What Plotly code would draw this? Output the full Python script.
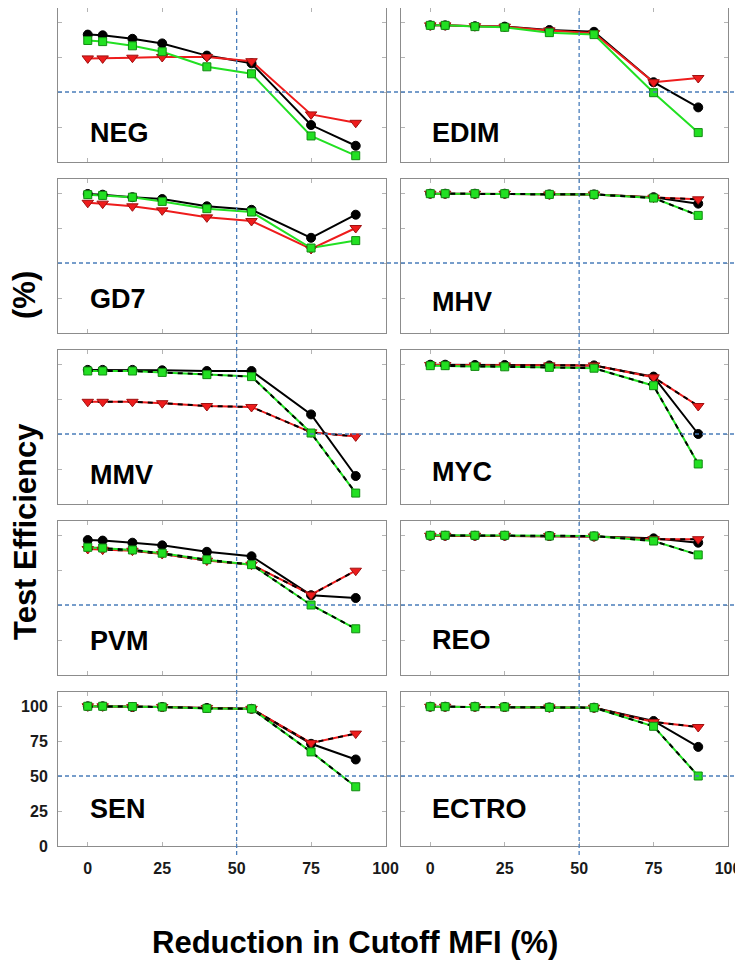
import plotly.graph_objects as go
from plotly.subplots import make_subplots

# cutoff MFI reduction steps (%)
CUTOFF_REDUCTION = [0, 5, 15, 25, 40, 55, 75, 90]

# test efficiency (%) per agent, three series each
neg_black = [91, 90.5, 88, 84.7, 76, 70.5, 26.4, 11.6]
neg_red = [74, 74, 74.5, 75, 75, 72, 34, 28]
neg_green = [86.8, 86, 83, 78.8, 68, 63, 18.6, 4.5]

edim_black = [97.6, 97.6, 97, 96.7, 94.3, 93, 57, 39]
edim_red = [97.6, 97.6, 97, 96.7, 94, 92, 57, 60]
edim_green = [97.6, 97.6, 96.7, 96.2, 92.4, 91, 49.5, 21]

gd7_black = [99.3, 98.8, 97, 95.7, 90.5, 88, 68, 84.5]
gd7_red = [93, 92.4, 90.5, 87.6, 82.6, 80, 60, 75]
gd7_green = [98.8, 98.3, 97, 94, 88.8, 86.4, 60.7, 66]

mhv_black = [99.5, 99.5, 99.5, 99.5, 99, 99, 97, 92.4]
mhv_red = [99.5, 99.5, 99.5, 99.5, 99, 99, 96.7, 95.5]
mhv_green = [99.5, 99.5, 99.5, 99.5, 99, 99, 96.4, 84]

mmv_black = [95.8, 95.8, 95.8, 95.5, 95, 95, 64, 20]
mmv_red = [73, 73, 73, 72, 70, 69.3, 51.2, 48.3]
mmv_green = [95, 95, 95, 94, 92.4, 91, 50.7, 7.8]

myc_black = [99.5, 99.5, 99.3, 99.3, 99, 99, 91, 50]
myc_red = [99.3, 99.3, 99, 99, 99, 99, 90.5, 70]
myc_green = [98.8, 98.8, 98.3, 98, 97.6, 97, 84.5, 28.6]

pvm_black = [96.4, 96, 94.5, 92.6, 88, 84.8, 57, 55]
pvm_red = [90, 89.5, 88.8, 86.4, 81.7, 78.8, 57.4, 74.5]
pvm_green = [91.2, 90.7, 89.3, 87, 82.4, 78.8, 50, 33]

reo_black = [99.5, 99.5, 99.5, 99.5, 99.3, 99, 97.6, 94.5]
reo_red = [99.5, 99.5, 99.5, 99.5, 99.3, 99, 97, 97]
reo_green = [99.8, 99.8, 99.8, 99.8, 99.3, 99.3, 95.7, 85.8]

sen_black = [99.8, 99.8, 99.3, 99.3, 98.6, 98, 73, 61.8]
sen_red = [99.8, 99.8, 99.3, 99.3, 98.6, 98, 73.6, 80.3]
sen_green = [99.8, 99.8, 99.6, 99.3, 98.3, 98, 67.2, 42.3]

ectro_black = [99.5, 99.5, 99.5, 99.3, 99, 98.8, 89.3, 70.8]
ectro_red = [99.5, 99.5, 99.5, 99.3, 99, 98.8, 88.6, 85]
ectro_green = [99.5, 99.5, 99.5, 99.3, 99, 98.8, 85.5, 50]

PANELS = [
    ("NEG", neg_black, neg_red, neg_green),
    ("EDIM", edim_black, edim_red, edim_green),
    ("GD7", gd7_black, gd7_red, gd7_green),
    ("MHV", mhv_black, mhv_red, mhv_green),
    ("MMV", mmv_black, mmv_red, mmv_green),
    ("MYC", myc_black, myc_red, myc_green),
    ("PVM", pvm_black, pvm_red, pvm_green),
    ("REO", reo_black, reo_red, reo_green),
    ("SEN", sen_black, sen_red, sen_green),
    ("ECTRO", ectro_black, ectro_red, ectro_green),
]

# panels whose coloured lines carry a black dash overlay
DASHED_PANELS = {"MHV", "MMV", "MYC", "PVM", "REO", "SEN", "ECTRO"}
LABEL_Y = [21, 21, 24, 22, 21, 23, 24.5, 25, 26.5, 26.5]

FONT = "Liberation Sans, Arial, sans-serif"
AXIS_GREY = "#8c8c8c"
REF_BLUE = "#4a7ebb"

# page body adds an 8px offset, so the figure is drawn a bit smaller than the window
W, H = 735, 952
M_L, M_R, M_T, M_B = 50, 15, 0, 114
plot_w = W - M_L - M_R
plot_h = H - M_T - M_B


def px_x(x):
    return (x - M_L) / plot_w


def px_y(y):
    return (plot_h + M_T - y) / plot_h


fig = make_subplots(rows=5, cols=2, horizontal_spacing=15 / plot_w, vertical_spacing=17 / plot_h)

series_style = [
    ("black", dict(symbol="circle", size=9, color="black", line=dict(color="black", width=1))),
    ("#ee1c1c", dict(symbol="triangle-down", size=10, color="#ee1c1c", line=dict(color="#a01010", width=1))),
    ("#22e022", dict(symbol="square", size=8, color="#22e022", line=dict(color="#128a12", width=1))),
]

for i, (label, *series) in enumerate(PANELS):
    row, col = i // 2 + 1, i % 2 + 1
    # lines first
    for (color, _), ys in zip(series_style, series):
        fig.add_trace(
            go.Scatter(x=CUTOFF_REDUCTION, y=ys, mode="lines", line=dict(color=color, width=2),
                       showlegend=False, hoverinfo="skip"),
            row=row, col=col,
        )
        if label in DASHED_PANELS and color != "black":
            fig.add_trace(
                go.Scatter(x=CUTOFF_REDUCTION, y=ys, mode="lines",
                           line=dict(color="black", width=2, dash="5px,5px"),
                           showlegend=False, hoverinfo="skip"),
                row=row, col=col,
            )
    # markers on top
    for (color, marker), ys in zip(series_style, series):
        fig.add_trace(
            go.Scatter(x=CUTOFF_REDUCTION, y=ys, mode="markers", marker=marker, showlegend=False),
            row=row, col=col,
        )

    n = i + 1
    fig.add_annotation(
        x=0, y=LABEL_Y[i], xref=f"x{n}", yref=f"y{n}", text=label, showarrow=False,
        xanchor="left", yanchor="middle",
        font=dict(family=FONT, size=27, color="black", weight="bold"),
    )

    if col == 1:
        # y = 50 reference line across the whole row
        fig.add_shape(
            type="line", xref="paper", yref=f"y{n}", x0=0, x1=px_x(W), y0=50, y1=50,
            line=dict(color=REF_BLUE, width=1.3, dash="4px,3px"),
        )

# x = 50 reference lines through each column
for n in (9, 10):
    fig.add_shape(
        type="line", xref=f"x{n}", yref="paper", x0=50, x1=50,
        y0=px_y(847), y1=1.01,
        line=dict(color=REF_BLUE, width=1.3, dash="4px,3px"),
    )

tick_font = dict(family=FONT, size=16, color="#1a1a1a", weight="bold")
fig.update_xaxes(
    range=[-10, 100], tickvals=[0, 25, 50, 75, 100], showgrid=False, zeroline=False,
    showline=True, linecolor=AXIS_GREY, linewidth=1, mirror="ticks",
    ticks="inside", ticklen=4, tickcolor="#b4b4b4", showticklabels=False,
    tickfont=tick_font, automargin=False,
)
fig.update_yaxes(
    range=[0, 110], tickvals=[0, 25, 50, 75, 100], showgrid=False, zeroline=False,
    showline=True, linecolor=AXIS_GREY, linewidth=1, mirror="ticks",
    ticks="inside", ticklen=4, tickcolor="#b4b4b4", showticklabels=False,
    tickfont=tick_font, automargin=False,
)
fig.update_xaxes(showticklabels=True, ticklabelstandoff=8, row=5)
fig.update_yaxes(showticklabels=True, ticklabelstandoff=6, row=5, col=1)

title_font = dict(family=FONT, size=31, color="black", weight="bold")
fig.add_annotation(
    x=px_x(17), y=px_y(524), xref="paper", yref="paper", xanchor="center", yanchor="middle",
    text="Test Efficiency", textangle=-90, showarrow=False, font=title_font,
)
fig.add_annotation(
    x=px_x(17), y=px_y(287), xref="paper", yref="paper", xanchor="center", yanchor="middle",
    text="(%)", textangle=-90, showarrow=False, font=title_font,
)
fig.add_annotation(
    x=px_x(347), y=px_y(934), xref="paper", yref="paper", xanchor="center", yanchor="middle",
    text="Reduction in Cutoff MFI (%)", showarrow=False, font=title_font,
)

fig.update_layout(
    width=W, height=H,
    margin=dict(l=M_L, r=M_R, t=M_T, b=M_B),
    paper_bgcolor="white", plot_bgcolor="rgba(0,0,0,0)",
    showlegend=False,
)

fig.write_html("out.html")
